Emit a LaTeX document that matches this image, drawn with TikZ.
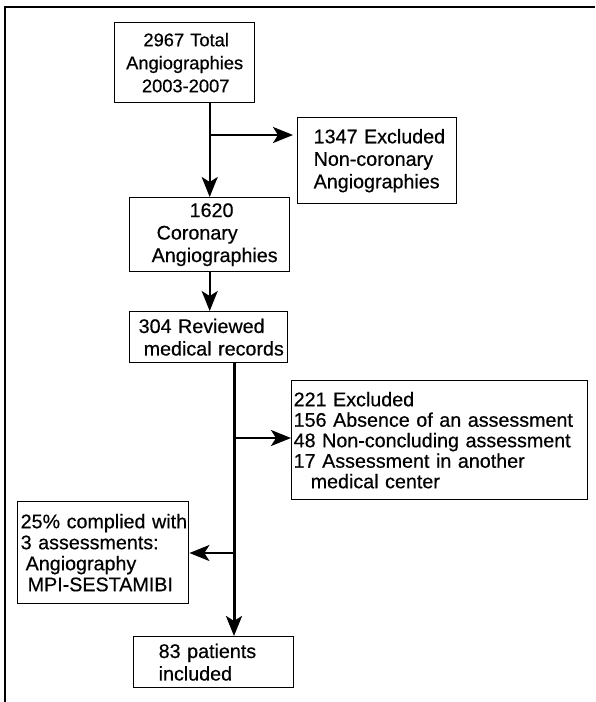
\documentclass[tikz,border=0pt]{standalone}
\usepackage{fontspec}
\setmainfont{Liberation Sans}
\newfontfamily\heavysans{Liberation Sans}[FakeBold=0.5]
\usetikzlibrary{arrows.meta}
\begin{document}
\begin{tikzpicture}[x=1pt,y=-1pt,
  box/.style={draw, line width=1.4pt, inner xsep=0pt, inner ysep=0pt, anchor=north west, align=left,
    font=\heavysans\fontsize{19.7}{22.5}\selectfont},
  arr/.style={line width=2.2pt, -{Stealth[length=20pt,width=16pt,inset=5pt]}},
  arrthick/.style={line width=3pt, -{Stealth[length=20pt,width=16pt,inset=5pt]}},
  frame/.style={line width=2.6pt}
]
\useasboundingbox (0,0) rectangle (595,702);
\draw[frame] (5,702) -- (5,7) -- (595,7);

\node[box, minimum width=140pt, minimum height=80pt, text width=140pt, align=center,
  font=\heavysans\fontsize{18.3}{23}\selectfont] (b1) at (114,22)
  {\hspace{3pt}2967 Total\\Angiographies\\\hspace{2pt}2003-2007};
\node[box, minimum width=159pt, minimum height=86pt, text width=159pt] (e1) at (297,117)
  {\hspace{16pt}1347 Excluded\\\hspace{16pt}Non-coronary\\\hspace{16pt}Angiographies};
\node[box, minimum width=160pt, minimum height=74pt, text width=160pt] (b2) at (129,197)
  {\hspace{60pt}1620\\\hspace{27pt}Coronary\\\hspace{22pt}Angiographies};
\node[box, minimum width=158pt, minimum height=51pt, text width=158pt] (b3) at (129,311)
  {\hspace{9pt}304 Reviewed\\\hspace{14pt}medical records};
\node[box, minimum width=296pt, minimum height=119pt, text width=296pt,
  font=\heavysans\fontsize{19.7}{20.5}\selectfont] (e2) at (291,380)
  {\hspace{2pt}221 Excluded\\\hspace{2pt}156 Absence of an assessment\\\hspace{2pt}48 Non-concluding assessment\\\hspace{2pt}17 Assessment in another\\\hspace{19pt}medical center};
\node[box, minimum width=171pt, minimum height=102pt, text width=171pt,
  font=\heavysans\fontsize{19.7}{21}\selectfont] (e3) at (17,501)
  {\hspace{3pt}25\% complied with\\\hspace{3pt}3 assessments:\\\hspace{8pt}Angiography\\\hspace{10pt}MPI-SESTAMIBI};
\node[box, minimum width=160pt, minimum height=51pt, text width=160pt] (b4) at (133,636)
  {\hspace{25pt}83 patients\\\hspace{25pt}included};

\coordinate (j1) at (b1.south -| b2.north);
\coordinate (k1) at (210,135);
\coordinate (m) at (234,0);
\coordinate (j2) at (234,438);
\coordinate (j3) at (234,553);

\draw[arr] (j1) -- (b2.north);
\draw[arr] (k1) -- ([xshift=-4pt]k1 -| e1.west);
\draw[arr] (b2.south) -- (b3.north -| b2.south);
\draw[arrthick] (b3.south -| m) -- (b4.north -| m);
\draw[arr] (j2) -- (j2 -| e2.west);
\draw[arr] (j3) -- (j3 -| e3.east);
\end{tikzpicture}
\end{document}
